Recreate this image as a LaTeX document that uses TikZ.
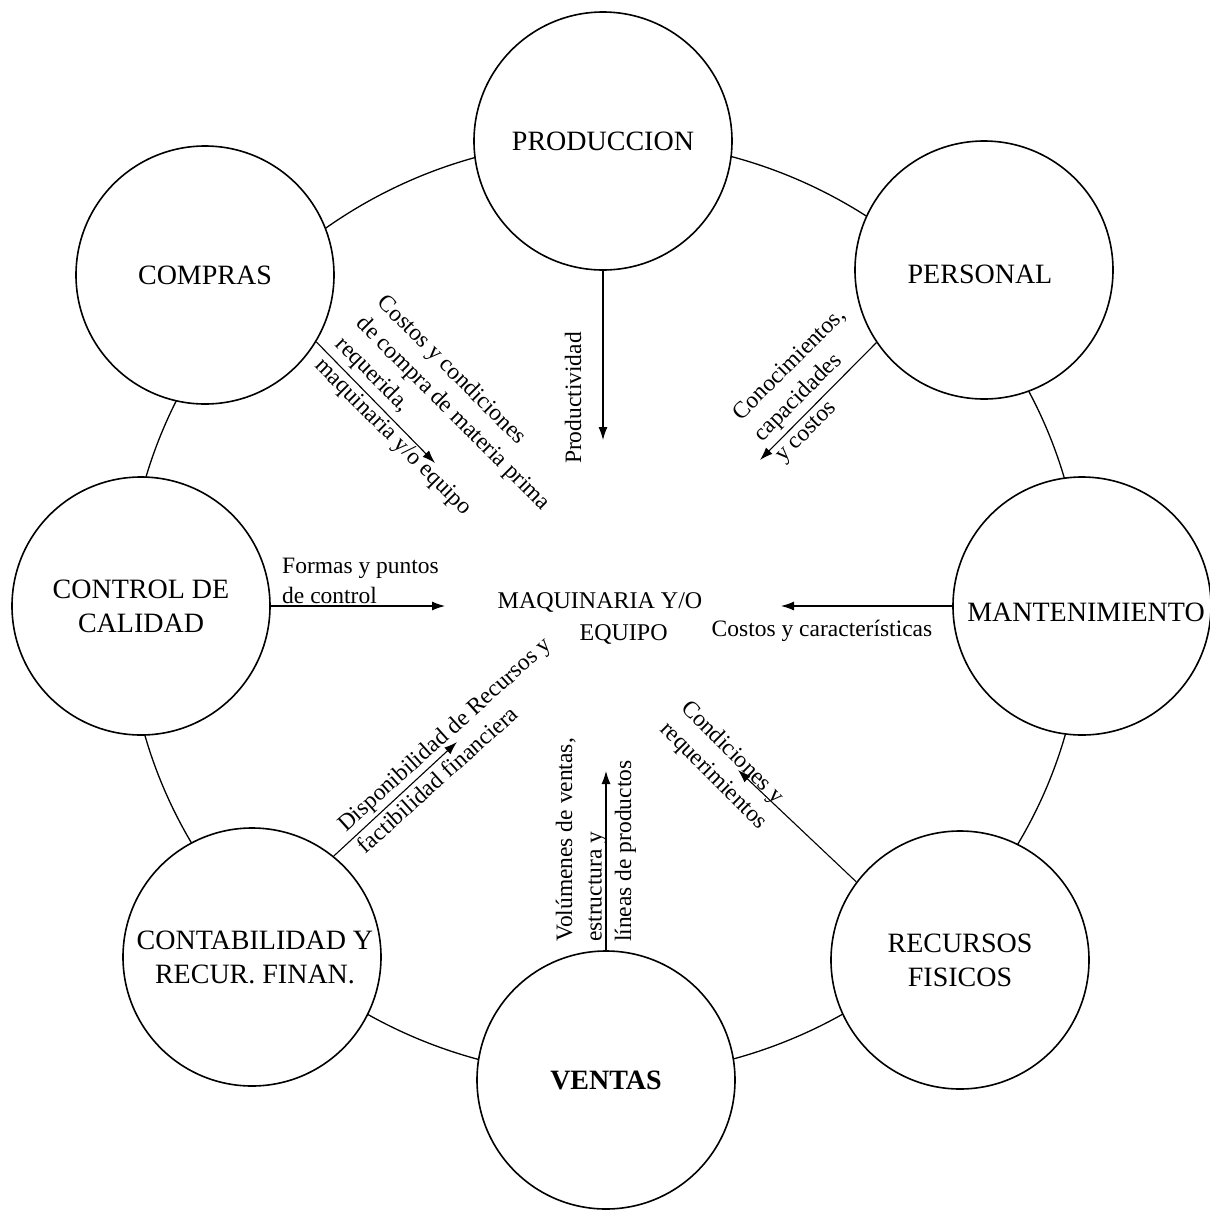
\documentclass[tikz,border=0pt]{standalone}
\usepackage{fontspec}
\setmainfont{Liberation Serif}
\usetikzlibrary{arrows.meta}
\begin{document}
\begin{tikzpicture}[x=1pt,y=-1pt,
  dept/.style={circle, draw, line width=1.6pt, fill=white, minimum size=258pt, inner sep=0pt},
  deptlabel/.style={align=center, font=\fontsize{28}{34}\selectfont, inner sep=0pt},
  flow/.style={line width=1.1pt, -{Latex[length=13pt,width=9pt]}},
  note/.style={align=left, font=\fontsize{23.5}{29.5}\selectfont, inner sep=0pt},
]
\useasboundingbox (0,0) rectangle (1210,1211);

% ring joining the departments
\draw[line width=1.3pt] (605,608) ellipse [x radius=478pt, y radius=468pt];

% departments
\node[dept] (prod) at (603,141) {};
\node[dept] (pers) at (984,270) {};
\node[dept] (mant) at (1082,606) {};
\node[dept] (recu) at (960,960) {};
\node[dept] (vent) at (606,1080) {};
\node[dept] (cont) at (252,957) {};
\node[dept] (ctrl) at (141,606) {};
\node[dept] (comp) at (205,275) {};

\node[deptlabel] (prodL) at (prod) {PRODUCCION};
\node[deptlabel] (persL) at (980,274) {PERSONAL};
\node[deptlabel] (mantL) at (1086,612) {MANTENIMIENTO};
\node[deptlabel] (recuL) at (recu) {RECURSOS\\FISICOS};
\node[deptlabel] (ventL) at (vent) {\textbf{VENTAS}};
\node[deptlabel] (contL) at (255,957) {CONTABILIDAD Y\\RECUR. FINAN.};
\node[deptlabel] (ctrlL) at (ctrl) {CONTROL DE\\CALIDAD};
\node[deptlabel] (compL) at (comp) {COMPRAS};

% central subject
\node[align=left, font=\fontsize{24}{32}\selectfont, inner sep=0pt] (maq) at (600,618)
  {MAQUINARIA Y/O\\\hspace*{82pt}EQUIPO};

% arrow end points
\coordinate (prodTip) at (603,440);
\coordinate (compTip) at (435,463);
\coordinate (persTip) at (760,460);
\coordinate (mantTip) at (781,606);
\coordinate (recuTip) at (738,770);
\coordinate (ventTip) at (606,771);
\coordinate (contTip) at (457,742);
\coordinate (ctrlTip) at (445,606);

% flows towards the machinery
\draw[flow] (prod.south) -- (prodTip);
\draw[flow] (comp.-31) -- (compTip);
\draw[flow] (pers.214) -- (persTip);
\draw[flow] (mant.west) -- (mantTip);
\draw[flow] (recu.143) -- (recuTip);
\draw[flow] (vent.north) -- (ventTip);
\draw[flow] (cont.51.5) -- (contTip);
\draw[flow] (ctrl.east) -- (ctrlTip);

% flow descriptions
\node[note, rotate=90] (prodN) at (573,398) {Productividad};
\node[note, rotate=-45] (compN) at (442.5,424.5)
  {Costos y condiciones\\de compra de materia prima\\requerida,\\maquinaria y/o equipo};
\node[note, rotate=45] (persN) at (811,386) {Conocimientos,\\capacidades\\y costos};
\node[note, anchor=center] (mantN) at (822,631) {Costos y características};
\node[note, rotate=-45] (recuN) at (723.5,765.5) {Condiciones y\\requerimientos};
\node[note, rotate=90] (ventN) at (596,840) {Volúmenes de ventas,\\estructura y\\líneas de productos};
\node[note, rotate=42] (contN) at (453.7,744.7) {Disponibilidad de Recursos y\\factibilidad financiera};
\node[note, anchor=west] (ctrlN) at (282,581) {Formas y puntos\\de control};

\end{tikzpicture}
\end{document}
